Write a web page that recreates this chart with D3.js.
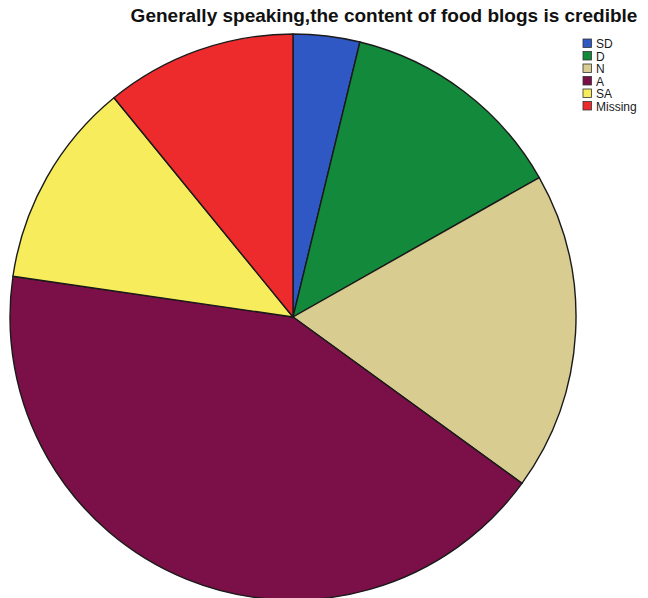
<!DOCTYPE html>
<html>
<head>
<meta charset="utf-8">
<script src="https://cdn.jsdelivr.net/npm/d3@7"></script>
<style>
  html, body { margin: 0; padding: 0; background: #fff; }
  svg { display: block; }
</style>
</head>
<body>
<svg id="chart" width="648" height="598"></svg>
<script>
// Response categories and their share of answers (percent)
const categories = ["SD", "D", "N", "A", "SA", "Missing"];
const shares = [3.8, 13.0, 18.2, 42.3, 11.8, 10.9];
const colors = ["#2f58c4", "#138a3b", "#d8cc90", "#7b0f47", "#f6ec5c", "#ee2b2c"];
const title = "Generally speaking,the content of food blogs is credible";

const data = categories.map((c, i) => ({ category: c, value: shares[i] }));

const svg = d3.select("#chart");
const cx = 293, cy = 317, radius = 283;

const color = d3.scaleOrdinal().domain(categories).range(colors);

const pie = d3.pie()
  .value(d => d.value)
  .sort(null)
  .startAngle(0)
  .endAngle(2 * Math.PI);

const arc = d3.arc().innerRadius(0).outerRadius(radius);

const g = svg.append("g").attr("transform", `translate(${cx},${cy})`);

g.selectAll("path")
  .data(pie(data))
  .join("path")
  .attr("d", arc)
  .attr("fill", d => color(d.data.category))
  .attr("stroke", "#1a1a1a")
  .attr("stroke-width", 1.4)
  .attr("stroke-linejoin", "round");

// Title
svg.append("text")
  .attr("x", 384)
  .attr("y", 22)
  .attr("text-anchor", "middle")
  .attr("font-family", "Liberation Sans, Arial, sans-serif")
  .attr("font-weight", "bold")
  .attr("font-size", 19)
  .attr("fill", "#111")
  .text(title);

// Legend
const legend = svg.append("g").attr("transform", "translate(583,39)");
const item = legend.selectAll("g")
  .data(categories)
  .join("g")
  .attr("transform", (d, i) => `translate(0,${i * 12.5})`);

item.append("rect")
  .attr("width", 8.5)
  .attr("height", 8.5)
  .attr("fill", d => color(d))
  .attr("stroke", "#333")
  .attr("stroke-width", 0.8);

item.append("text")
  .attr("x", 13)
  .attr("y", 9)
  .attr("font-family", "Liberation Sans, Arial, sans-serif")
  .attr("font-size", 12)
  .attr("fill", "#1a1a1a")
  .text(d => d);
</script>
</body>
</html>
